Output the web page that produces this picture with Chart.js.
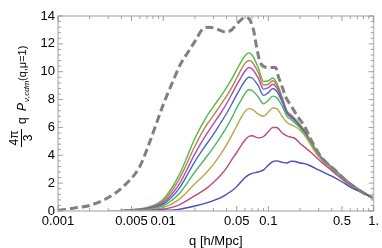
<!DOCTYPE html>
<html>
<head>
<meta charset="utf-8">
<script src="https://cdn.jsdelivr.net/npm/chart.js@4/dist/chart.umd.min.js"></script>
<style>
html,body{margin:0;padding:0;background:#fff;}
canvas{display:block;}
</style>
</head>
<body>
<canvas id="grafico" width="382" height="248"></canvas>
<script>

const qDash = [0.001,0.0014,0.002,0.0029,0.0041,0.006,0.0074,0.0102,0.0122,0.0145,0.0172,0.0205,0.0233,0.0271,0.0315,0.0392,0.0446,0.0518,0.0605,0.0645,0.0722,0.0771,0.0843,0.1,0.117,0.125,0.134,0.146,0.166,0.193,0.224,0.249,0.316,0.428,0.584,0.774,1];
const pDash = [0.05,0.2,0.4,0.9,1.7,3.2,4.9,7.8,9.2,10.5,11.4,12.3,13.0,13.2,13.1,12.85,13.0,13.55,13.9,13.85,13.0,11.8,10.6,10.3,10.3,9.6,9.0,8.2,7.5,6.7,6.0,5.25,3.9,2.95,2.0,1.36,0.93];

const qGrid = [0.003,0.004,0.005,0.007,0.01,0.014,0.02,0.025,0.03,0.035,0.04,0.045,0.05,0.055,0.06,0.065,0.07,0.08,0.09,0.1,0.11,0.12,0.135,0.15,0.165,0.18,0.2,0.22,0.25,0.3,0.4,0.5,0.6,0.8,1];

const curve1 = [0,0,0.01,0.02,0.05,0.12,0.36,0.55,0.75,0.95,1.2,1.45,1.75,2.1,2.4,2.6,2.7,2.8,2.95,3.3,3.55,3.6,3.5,3.45,3.58,3.55,3.45,3.4,3.25,2.95,2.5,2.1,1.72,1.28,0.93];
const curve2 = [0,0.01,0.02,0.05,0.13,0.42,1.1,1.55,2.05,2.55,3.1,3.7,4.2,4.7,5.1,5.35,5.4,5.25,5.35,5.7,6.0,6.0,5.6,5.4,5.3,5.2,4.85,4.6,4.25,3.7,2.9,2.3,1.85,1.28,0.9];
const curve3 = [0,0.01,0.03,0.08,0.25,0.8,1.95,2.65,3.35,4.05,4.75,5.45,6.1,6.7,7.15,7.35,7.3,6.95,6.8,7.1,7.4,7.35,6.8,6.35,6.2,6.05,5.8,5.45,4.8,3.9,3.0,2.4,1.93,1.3,0.92];
const curve4 = [0,0.02,0.05,0.12,0.38,1.2,2.8,3.75,4.55,5.3,6.0,6.7,7.4,7.95,8.45,8.7,8.65,8.2,7.7,7.95,8.25,8.15,7.55,6.8,6.55,6.3,5.95,5.55,4.9,3.95,3.05,2.43,1.96,1.31,0.92];
const curve5 = [0,0.02,0.06,0.16,0.5,1.55,3.55,4.65,5.5,6.3,7.0,7.7,8.35,8.9,9.35,9.6,9.55,9.0,8.3,8.5,8.8,8.6,7.85,7.0,6.7,6.45,6.05,5.65,4.95,4.0,3.08,2.45,1.97,1.32,0.92];
const curve6 = [0,0.03,0.07,0.19,0.6,1.85,4.1,5.35,6.25,7.0,7.7,8.4,9.05,9.6,10.05,10.3,10.2,9.55,8.75,8.85,9.1,8.85,8.0,7.1,6.8,6.5,6.1,5.7,5.0,4.05,3.1,2.46,1.98,1.33,0.92];
const curve7 = [0,0.03,0.08,0.22,0.72,2.2,4.65,6.0,6.85,7.6,8.25,8.9,9.55,10.15,10.6,10.8,10.7,9.95,9.05,9.1,9.35,9.05,8.1,7.15,6.85,6.55,6.15,5.75,5.05,4.08,3.13,2.48,1.99,1.34,0.92];
const curve8 = [0,0.04,0.1,0.25,0.85,2.5,5.2,6.6,7.5,8.2,8.85,9.5,10.15,10.7,11.15,11.35,11.2,10.3,9.3,9.35,9.55,9.2,8.2,7.2,6.9,6.6,6.2,5.8,5.1,4.1,3.15,2.5,2.0,1.35,0.93];

const curveColors = ["#4949b8","#b84987","#b8a649","#49b861","#4969b8","#ad49b8","#b88249","#58b849"];

const xTickVals = [0.001,0.005,0.01,0.05,0.1,0.5,1];
const xTickText = ["0.001","0.005","0.01","0.05","0.1","0.5","1."];
const xMinor = [0.002,0.003,0.004,0.006,0.007,0.008,0.009,0.02,0.03,0.04,0.06,0.07,0.08,0.09,0.2,0.3,0.4,0.6,0.7,0.8,0.9];
const yTickVals = [0,2,4,6,8,10,12,14];

const font = "'Liberation Sans', Arial, sans-serif";

const toPoints = (qs, ps) => qs.map((q, i) => ({x: q, y: ps[i]}));

const datasets = [{
  data: toPoints(qDash, pDash),
  borderColor: "#808080",
  borderWidth: 3,
  borderDash: [8, 4],
  pointRadius: 0,
  cubicInterpolationMode: "monotone"
}];

[curve1,curve2,curve3,curve4,curve5,curve6,curve7,curve8].forEach((c, i) => {
  datasets.push({
    data: toPoints(qGrid, c),
    borderColor: curveColors[i],
    borderWidth: 1.4,
    pointRadius: 0,
    cubicInterpolationMode: "monotone"
  });
});

const frame = {
  id: "frame",
  afterDatasetsDraw(chart) {
    const {ctx, chartArea: a, scales: {x, y}} = chart;
    ctx.save();
    ctx.strokeStyle = "#c4c4c4";
    ctx.lineWidth = 1.6;
    ctx.strokeRect(a.left, a.top, a.right - a.left, a.bottom - a.top);
    ctx.strokeStyle = "#8a8a8a";
    ctx.lineWidth = 0.8;
    const tick = (x1, y1, x2, y2) => {
      ctx.beginPath();
      ctx.moveTo(x1, y1);
      ctx.lineTo(x2, y2);
      ctx.stroke();
    };
    for (let v = 0; v <= 14.001; v += 0.4) {
      const py = y.getPixelForValue(v);
      const len = Math.abs(v / 2 - Math.round(v / 2)) < 0.01 ? 5 : 3;
      tick(a.left, py, a.left + len, py);
      tick(a.right, py, a.right - len, py);
    }
    xTickVals.forEach(v => {
      const px = x.getPixelForValue(v);
      tick(px, a.bottom, px, a.bottom - 5);
      tick(px, a.top, px, a.top + 5);
    });
    xMinor.forEach(v => {
      const px = x.getPixelForValue(v);
      tick(px, a.bottom, px, a.bottom - 3);
      tick(px, a.top, px, a.top + 3);
    });
    ctx.restore();
  }
};

const yTitle = {
  id: "yTitle",
  afterDraw(chart) {
    const ctx = chart.ctx;
    ctx.save();
    ctx.translate(0, 98);
    ctx.rotate(-Math.PI / 2);
    ctx.fillStyle = "#000";
    ctx.textBaseline = "alphabetic";
    ctx.textAlign = "center";
    ctx.font = "12px " + font;
    ctx.fillText("4\u03c0", -40, 18);
    ctx.fillText("3", -40, 32);
    ctx.fillRect(-49, 21, 18, 1);
    ctx.textAlign = "left";
    ctx.font = "12px " + font;
    ctx.fillText("q", -26, 26);
    ctx.font = "italic 12px " + font;
    ctx.fillText("P", -13, 26);
    ctx.font = "italic 8px " + font;
    ctx.fillText("\u03bd,cdm", -4, 29);
    ctx.font = "11px " + font;
    ctx.fillText("(q,\u03bc=1)", 17, 26);
    ctx.restore();
  }
};

new Chart(
document.getElementById("grafico"),
{
type: "line",
data: { datasets: datasets },
options: {
  responsive: false,
  animation: false,
  devicePixelRatio: 1,
  layout: { padding: { top: 16, right: 6, left: 0, bottom: 0 } },
  plugins: { legend: { display: false }, tooltip: { enabled: false } },
  scales: {
    x: {
      type: "logarithmic",
      min: 0.001,
      max: 1,
      grid: { display: false, drawTicks: false },
      border: { display: false },
      afterBuildTicks: s => { s.ticks = xTickVals.map(v => ({ value: v })); },
      afterFit: s => { s.height = 37; },
      ticks: {
        autoSkip: false,
        maxRotation: 0,
        padding: 3,
        color: "#000",
        font: { family: font, size: 13 },
        callback: (v, i) => xTickText[i]
      },
      title: {
        display: true,
        text: "q [h/Mpc]",
        color: "#000",
        font: { family: font, size: 13, lineHeight: 1 },
        padding: { top: 0, bottom: 0 }
      }
    },
    y: {
      min: 0,
      max: 14,
      grid: { display: false, drawTicks: false },
      border: { display: false },
      afterBuildTicks: s => { s.ticks = yTickVals.map(v => ({ value: v })); },
      afterFit: s => { s.width = 58; },
      ticks: {
        padding: 3,
        color: "#000",
        font: { family: font, size: 13 }
      }
    }
  }
},
plugins: [frame, yTitle]
}
);

</script>
</body>
</html>
